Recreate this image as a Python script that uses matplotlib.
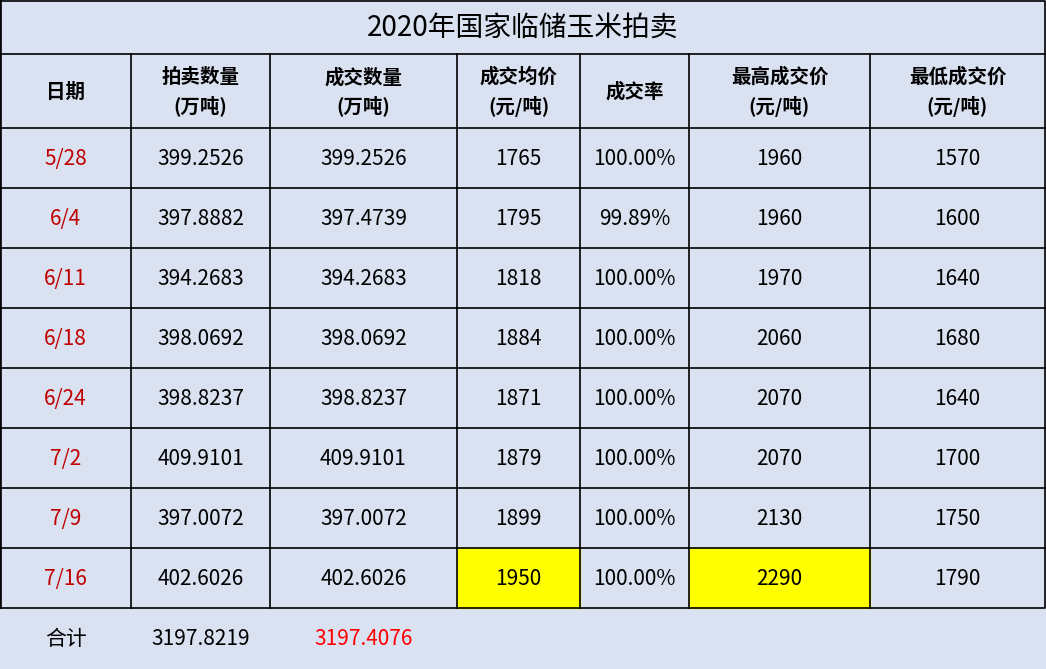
import matplotlib
matplotlib.use("Agg")
import matplotlib.pyplot as plt
from matplotlib.patches import Rectangle

plt.rcParams['font.family'] = ['Noto Sans CJK SC', 'DejaVu Sans']

title = "2020年国家临储玉米拍卖"
headers = ["日期", "拍卖数量\n(万吨)", "成交数量\n(万吨)", "成交均价\n(元/吨)", "成交率", "最高成交价\n(元/吨)", "最低成交价\n(元/吨)"]
dates = ["5/28", "6/4", "6/11", "6/18", "6/24", "7/2", "7/9", "7/16"]
auction_qty = ["399.2526", "397.8882", "394.2683", "398.0692", "398.8237", "409.9101", "397.0072", "402.6026"]
deal_qty = ["399.2526", "397.4739", "394.2683", "398.0692", "398.8237", "409.9101", "397.0072", "402.6026"]
avg_price = ["1765", "1795", "1818", "1884", "1871", "1879", "1899", "1950"]
deal_rate = ["100.00%", "99.89%", "100.00%", "100.00%", "100.00%", "100.00%", "100.00%", "100.00%"]
max_price = ["1960", "1960", "1970", "2060", "2070", "2070", "2130", "2290"]
min_price = ["1570", "1600", "1640", "1680", "1640", "1700", "1750", "1790"]
total = ["合计", "3197.8219", "3197.4076"]

W, H = 1046, 669
fig = plt.figure(figsize=(W/100, H/100), dpi=100)
ax = fig.add_axes([0, 0, 1, 1])
ax.set_xlim(0, W); ax.set_ylim(H, 0); ax.axis('off')
bg = '#DAE1F0'
ax.add_patch(Rectangle((0, 0), W, H, color=bg, zorder=0))

xs = [0, 131, 270, 457, 580, 689, 870, 1045]
ys = [54, 128] + [128 + 60*i for i in range(1, 9)]
lw = 1.2
ax.add_patch(Rectangle((xs[3], ys[8]), xs[4]-xs[3], 60, color='#FFFF00', zorder=1))
ax.add_patch(Rectangle((xs[5], ys[8]), xs[6]-xs[5], 60, color='#FFFF00', zorder=1))
ax.plot([0, xs[-1], xs[-1], 0, 0], [0.5, 0.5, ys[-1], ys[-1], 0.5], color='black', lw=lw, zorder=2)
for y in ys[:-1]:
    ax.plot([0, xs[-1]], [y, y], color='black', lw=lw, zorder=2)
for x in xs[1:-1]:
    ax.plot([x, x], [ys[0], ys[-1]], color='black', lw=lw, zorder=2)
ax.plot([0.5, 0.5], [0, ys[-1]], color='black', lw=lw, zorder=2)

ax.text(W/2, 28, title, ha='center', va='center', fontsize=20, zorder=3)
for j, h in enumerate(headers):
    ax.text((xs[j]+xs[j+1])/2, (ys[0]+ys[1])/2 + 1, h, ha='center', va='center',
            fontsize=14, fontweight='bold', linespacing=1.5, zorder=3)
cols = [dates, auction_qty, deal_qty, avg_price, deal_rate, max_price, min_price]
for i in range(8):
    yc = ys[1] + 60*i + 31
    for j, col in enumerate(cols):
        ax.text((xs[j]+xs[j+1])/2, yc, col[i], ha='center', va='center', fontsize=15,
                color='#C00000' if j == 0 else 'black', zorder=3)
yc = ys[-1] + 31
for j, t in enumerate(total):
    ax.text((xs[j]+xs[j+1])/2, yc, t, ha='center', va='center', fontsize=15,
            color='#FF0000' if j == 2 else 'black', zorder=3)

fig.savefig('out.png', dpi=100)
